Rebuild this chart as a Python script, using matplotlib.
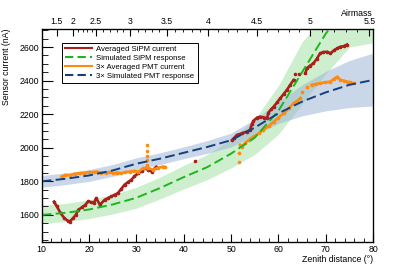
import numpy as np
import matplotlib
matplotlib.use("Agg")
import matplotlib.pyplot as plt
from matplotlib.lines import Line2D

plt.rcParams['font.family'] = ['Liberation Sans', 'DejaVu Sans']

# simulated responses (zenith distance in degrees, current in nA)
z_sim_sipm = [10, 15, 20, 25, 30, 35, 40, 45, 50, 55, 60, 65, 70, 73]
sim_sipm = [1600, 1612, 1632, 1662, 1702, 1760, 1825, 1885, 1965, 2060, 2220, 2450, 2680, 2790]

z_band = [10, 15, 20, 25, 30, 35, 40, 45, 50, 55, 60, 65, 70, 75, 80]
sipm_hi = [1660, 1668, 1690, 1720, 1765, 1825, 1895, 1960, 2050, 2170, 2370, 2630, 2800, 2800, 2800]
sipm_lo = [1550, 1560, 1578, 1605, 1640, 1695, 1755, 1810, 1880, 1960, 2080, 2260, 2440, 2600, 2625]

sim_pmt = [1800, 1815, 1835, 1865, 1905, 1935, 1970, 2005, 2045, 2120, 2205, 2275, 2330, 2375, 2404]
pmt_hi = [1835, 1850, 1870, 1900, 1940, 1970, 2005, 2043, 2087, 2170, 2275, 2375, 2455, 2520, 2564]
pmt_lo = [1765, 1780, 1800, 1830, 1870, 1900, 1935, 1967, 2005, 2075, 2145, 2190, 2220, 2240, 2249]

# measured SiPM current
sipm_z1 = [12.6, 13.2, 14.0, 14.8, 15.5, 15.9, 16.6, 17.2, 17.7, 18.5, 19.2, 19.8, 20.5, 21.0, 21.5,
           22.3, 23.3, 24.0, 24.7, 25.4, 26.1, 26.8, 27.5, 28.2, 28.9, 29.6, 30.4, 31.1, 31.8, 32.5,
           33.2, 33.9, 34.2]
sipm_v1 = [1679, 1650, 1610, 1580, 1565, 1560, 1580, 1600, 1630, 1645, 1660, 1680, 1675, 1670, 1700,
           1660, 1690, 1700, 1710, 1720, 1730, 1755, 1780, 1795, 1808, 1830, 1848, 1860, 1878, 1870,
           1858, 1878, 1885]
sipm_z2 = [50.2, 50.7, 51.2, 52.3, 53.3, 54.0, 54.4, 54.7, 55.5, 56.2, 57.0, 57.6, 57.9, 58.5, 59.0,
           59.7, 60.4, 61.1, 61.8, 62.5, 63.2]
sipm_v2 = [2046, 2060, 2076, 2086, 2096, 2106, 2140, 2160, 2180, 2185, 2180, 2175, 2210, 2230, 2245,
           2270, 2295, 2320, 2345, 2375, 2404]
sipm_z3 = [65.7, 66.0, 66.7, 67.4, 68.1, 68.8, 69.5, 70.3, 71.0, 71.7, 72.4, 73.1, 73.8, 74.5]
sipm_v3 = [2443, 2473, 2490, 2503, 2530, 2562, 2570, 2572, 2562, 2580, 2592, 2602, 2605, 2615]
sipm_zs = [42.4, 63.6, 64.4]
sipm_vs = [1923, 2440, 2440]

# measured PMT current (x3)
pmt_z1 = [14.2, 15.0, 16.0, 17.0, 18.1, 19.0, 20.0, 21.0, 21.6, 22.5, 23.5, 24.3, 25.1, 26.0, 26.8,
          27.6, 28.7, 29.5, 30.4, 31.5, 32.5, 33.5, 34.5, 35.7, 36.0]
pmt_v1 = [1828, 1838, 1835, 1845, 1848, 1850, 1855, 1855, 1858, 1852, 1850, 1855, 1848, 1852, 1848,
          1855, 1858, 1862, 1858, 1878, 1878, 1870, 1880, 1888, 1885]
pmt_z2 = [51.9, 52.3, 53.0, 53.7, 54.7, 55.8, 56.8, 58.0, 59.0, 60.0, 61.1, 62.2, 63.2, 64.0, 64.6]
pmt_v2 = [2017, 2007, 2030, 2045, 2066, 2085, 2106, 2130, 2155, 2180, 2205, 2235, 2265, 2280, 2295]
pmt_z3 = [67.0, 67.9, 68.8, 69.9, 71.0, 71.7, 72.4, 73.1, 73.8, 74.5, 75.2, 75.9]
pmt_v3 = [2374, 2380, 2384, 2390, 2394, 2410, 2423, 2404, 2400, 2394, 2390, 2384]
pmt_zs = [32.2, 32.2, 32.2, 32.2, 32.2, 51.6, 51.7, 65.0, 66.0]
pmt_vs = [1900, 1925, 1950, 1980, 2017, 1967, 1917, 2334, 2363]

# airmass labels on top axis and their zenith positions
airmass_labels = ["1.5", "2", "2.5", "3", "3.5", "4", "4.5", "5", "5.5"]
airmass_pos = [13.2, 16.7, 21.5, 28.7, 36.4, 45.2, 55.4, 66.7, 79.2]

c_red = "#a8201a"
c_green = "#1fb51f"
c_orange = "#ff8a10"
c_blue = "#163f7c"

fig = plt.figure(figsize=(4.15, 2.68), dpi=100)
ax = fig.add_axes([0.1005, 0.098, 0.7985, 0.794])

ax.fill_between(z_band, sipm_lo, sipm_hi, color="#9fe09f", alpha=0.5, lw=0, zorder=1)
ax.fill_between(z_band, pmt_lo, pmt_hi, color="#9db6d6", alpha=0.55, lw=0, zorder=1)

for zz, vv in [(sipm_z1, sipm_v1), (sipm_z2, sipm_v2), (sipm_z3, sipm_v3)]:
    ax.plot(zz, vv, color=c_red, lw=1.9, marker="o", ms=1.6, zorder=3)
ax.plot(sipm_zs, sipm_vs, ls="none", color=c_red, marker="o", ms=1.6, zorder=3)
for zz, vv in [(pmt_z1, pmt_v1), (pmt_z2, pmt_v2), (pmt_z3, pmt_v3)]:
    ax.plot(zz, vv, color=c_orange, lw=1.9, marker="o", ms=1.6, zorder=3)
ax.plot(pmt_zs, pmt_vs, ls="none", color=c_orange, marker="o", ms=1.6, zorder=3)

ax.plot(z_sim_sipm, sim_sipm, color=c_green, lw=1.4, dashes=(5, 2.2), zorder=4)
ax.plot(z_band, sim_pmt, color=c_blue, lw=1.4, dashes=(5, 2.2), zorder=4)

ax.set_xlim(10, 80)
ax.set_ylim(1440, 2708)
ax.set_xticks(np.arange(10, 81, 10))
ax.set_xticks(np.arange(10, 81, 2), minor=True)
ax.set_yticks(np.arange(1600, 2601, 200))
ax.set_yticks(np.arange(1450, 2701, 50), minor=True)
ax.tick_params(axis="x", which="major", direction="in", length=6, width=0.8, labelsize=6.3, pad=2, top=False)
ax.tick_params(axis="x", which="minor", direction="in", length=3, width=0.6, top=False)
ax.tick_params(axis="y", which="major", direction="in", length=8, width=0.8, labelsize=6.3, pad=2, right=False)
ax.tick_params(axis="y", which="minor", direction="in", length=4, width=0.6, right=False)
for s in ax.spines.values():
    s.set_linewidth(0.9)

ax.set_xlabel("Zenith distance (°)", fontsize=6.3, loc="right", labelpad=1)
ax.set_ylabel("Sensor current (nA)", fontsize=6.3, loc="top", labelpad=6)

top = ax.twiny()
top.set_xlim(ax.get_xlim())
top.set_xticks(airmass_pos)
top.set_xticklabels(airmass_labels)
minor = []
for a, b in zip(airmass_pos[1:-1], airmass_pos[2:]):
    minor += list(np.linspace(a, b, 6)[1:-1])
top.set_xticks(minor, minor=True)
top.tick_params(axis="x", which="major", direction="in", length=5, width=0.8, labelsize=6.3, pad=2)
top.tick_params(axis="x", which="minor", direction="in", length=2.5, width=0.6)
top.set_xlabel("Airmass", fontsize=6.3, loc="right", labelpad=1)

handles = [Line2D([], [], color=c_red, lw=1.5),
           Line2D([], [], color=c_green, lw=1.5, dashes=(4, 2)),
           Line2D([], [], color=c_orange, lw=1.5),
           Line2D([], [], color=c_blue, lw=1.5, dashes=(4, 2))]
labels = ["Averaged SiPM current", "Simulated SiPM response",
          "3× Averaged PMT current", "3× Simulated PMT response"]
leg = ax.legend(handles, labels, loc="upper left", bbox_to_anchor=(0.062, 0.936), borderaxespad=0,
                fontsize=5.6, frameon=True, fancybox=False, edgecolor="black", framealpha=1,
                handlelength=3.4, handletextpad=0.6, borderpad=0.4, labelspacing=0.2)
leg.get_frame().set_linewidth(0.7)

fig.savefig("out.png", dpi=100)
